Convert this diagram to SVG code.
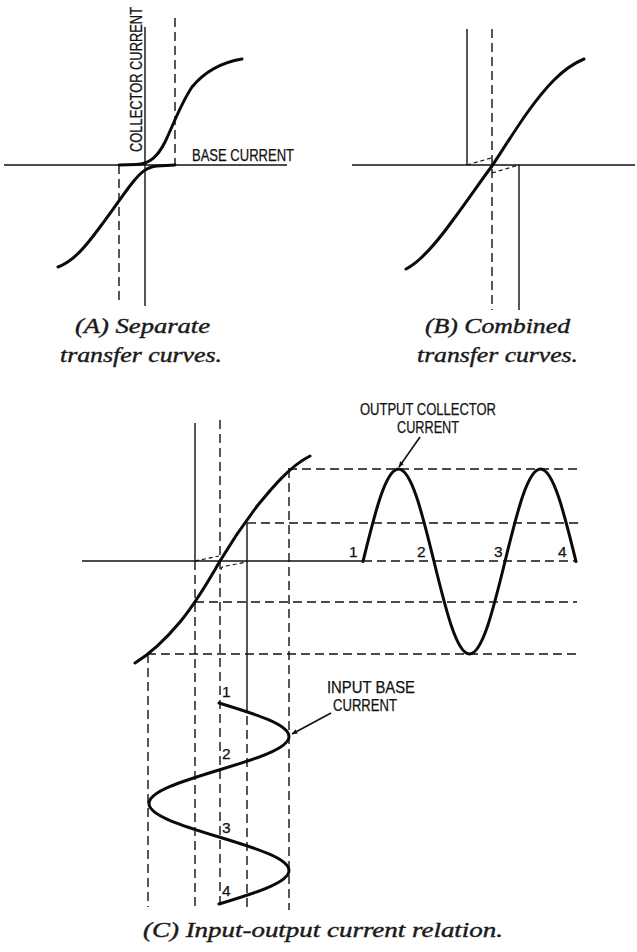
<svg xmlns="http://www.w3.org/2000/svg" width="637" height="952" viewBox="0 0 637 952">
<defs>
<style>
.ax{stroke:#111;stroke-width:1.4;fill:none}
.da{stroke:#111;stroke-width:1.4;fill:none;stroke-dasharray:9 5}
.ds{stroke:#111;stroke-width:1.2;fill:none;stroke-dasharray:4 3}
.cv{stroke:#0a0a0a;stroke-width:3;fill:none;stroke-linecap:round;stroke-linejoin:round}
.lb{font-family:"Liberation Sans","DejaVu Sans",sans-serif;font-size:16.5px;fill:#111;stroke:#111;stroke-width:0.25}
.nm{font-family:"Liberation Sans","DejaVu Sans",sans-serif;font-size:15.5px;fill:#111;stroke:#111;stroke-width:0.25}
.cap{font-family:"Liberation Serif","DejaVu Serif",serif;font-style:italic;font-size:20px;fill:#1a1a1a;stroke:#1a1a1a;stroke-width:0.4}
.ld{stroke:#111;stroke-width:1.6;fill:none}
</style>
<marker id="ah" viewBox="0 0 10 10" refX="9" refY="5" markerWidth="6" markerHeight="6" orient="auto" markerUnits="userSpaceOnUse">
<path d="M0,1 L10,5 L0,9 Z" fill="#111"/>
</marker>
</defs>
<rect width="637" height="952" fill="#ffffff"/>

<g id="panelA">
<line class="ax" x1="4" y1="165" x2="287" y2="165"/>
<line class="ax" x1="145" y1="27" x2="145" y2="306"/>
<line class="da" x1="175" y1="18" x2="175" y2="165"/>
<line class="da" x1="119" y1="165" x2="119" y2="304"/>
<path class="cv" d="M119,165 L136,164.5 C150,164 158,156 165,142 C172,128 180,105 192,87 C206,70 224,62 242,59"/>
<path class="cv" d="M175,165 L157,166 C147,167 141,172 133,182 C124,193 113,210 100,227 C86,246 74,261 58,267"/>
<text class="lb" transform="translate(142,152) rotate(-90)" font-size="17.5" textLength="145" lengthAdjust="spacingAndGlyphs">COLLECTOR CURRENT</text>
<text class="lb" x="192" y="161" font-size="15.5" textLength="102" lengthAdjust="spacingAndGlyphs">BASE CURRENT</text>
<text class="cap" x="75" y="333" textLength="135" lengthAdjust="spacingAndGlyphs">(A) Separate</text>
<text class="cap" x="60" y="362" textLength="162" lengthAdjust="spacingAndGlyphs">transfer curves.</text>
</g>

<g id="panelB">
<line class="ax" x1="352" y1="165" x2="635" y2="165"/>
<line class="ax" x1="467" y1="29" x2="467" y2="165"/>
<line class="ax" x1="519" y1="165" x2="519" y2="310"/>
<line class="da" x1="492" y1="29" x2="492" y2="310"/>
<path class="ds" d="M467,165 L491,158"/>
<path class="ds" d="M492,173 L519,165"/>
<path class="cv" d="M406,269 C420,262 435,245 453,220 C470,197 480,182 492,166 C502,151 515,130 527,113 C545,88 562,68 584,59"/>
<text class="cap" x="425" y="333" textLength="145" lengthAdjust="spacingAndGlyphs">(B) Combined</text>
<text class="cap" x="417" y="362" textLength="161" lengthAdjust="spacingAndGlyphs">transfer curves.</text>
</g>

<g id="panelC">
<line class="ax" x1="82" y1="561" x2="363" y2="561"/>
<line class="ax" x1="195" y1="423" x2="195" y2="561"/>
<line class="ax" x1="247" y1="523" x2="247" y2="711"/>
<line class="da" x1="195" y1="561" x2="195" y2="907"/>
<line class="da" x1="220" y1="420" x2="220" y2="907"/>
<line class="da" x1="247" y1="716" x2="247" y2="907"/>
<line class="da" x1="289" y1="469" x2="289" y2="910"/>
<line class="da" x1="148" y1="654" x2="148" y2="907"/>
<line class="da" x1="288" y1="469" x2="577" y2="469"/>
<line class="da" x1="247" y1="523" x2="582" y2="523"/>
<line class="da" x1="363" y1="561" x2="575" y2="561"/>
<line class="da" x1="195" y1="602" x2="577" y2="602"/>
<line class="da" x1="147" y1="654" x2="578" y2="654"/>
<path class="ds" d="M195,561 L219,556"/>
<path class="ds" d="M221,570 Q221,566 226,566 L247,562"/>
<path class="cv" d="M135,663 C148,655 165,640 180,622 C195,604 208,582 220,561 C232,541 245,522 258,505 C272,488 290,466 310,456"/>
</g>

<g id="output-wave">
<path class="cv" d="M363,561.5 C374.87,512.93 385.71,469 398.5,469 C411.29,469 422.13,512.93 434,561.5 C445.87,610.07 456.71,654 469.5,654 C482.29,654 493.13,610.07 505,561.5 C516.87,512.93 527.71,469 540.5,469 C553.29,469 564.13,512.93 576,561.5"/>
<text class="nm" x="349" y="557">1</text>
<text class="nm" x="417" y="557">2</text>
<text class="nm" x="494" y="557">3</text>
<text class="nm" x="558" y="557">4</text>
<text class="lb" x="360" y="415" textLength="136" lengthAdjust="spacingAndGlyphs">OUTPUT COLLECTOR</text>
<text class="lb" x="397" y="433" textLength="62" lengthAdjust="spacingAndGlyphs">CURRENT</text>
</g>

<g id="input-wave">
<path class="cv" d="M219,703 C255.76,714.2 289,724.43 289,736.5 C289,748.57 255.76,758.8 219,770 C182.24,781.2 149,791.43 149,803.5 C149,815.57 182.24,825.8 219,837 C255.76,848.2 289,858.43 289,870.5 C289,882.57 255.76,892.8 219,904"/>
<text class="nm" x="222" y="697">1</text>
<text class="nm" x="222" y="759">2</text>
<text class="nm" x="222" y="833">3</text>
<text class="nm" x="222" y="896">4</text>
<text class="lb" x="327" y="693" textLength="88" lengthAdjust="spacingAndGlyphs">INPUT BASE</text>
<text class="lb" x="333" y="711" textLength="64" lengthAdjust="spacingAndGlyphs">CURRENT</text>
<text class="cap" x="143" y="937" textLength="360" lengthAdjust="spacingAndGlyphs">(C) Input-output current relation.</text>
</g>

<g id="connectors">
<line class="ld" x1="420" y1="437" x2="399" y2="467" marker-end="url(#ah)"/>
<line class="ld" x1="331" y1="713" x2="292" y2="734" marker-end="url(#ah)"/>
</g>
</svg>
